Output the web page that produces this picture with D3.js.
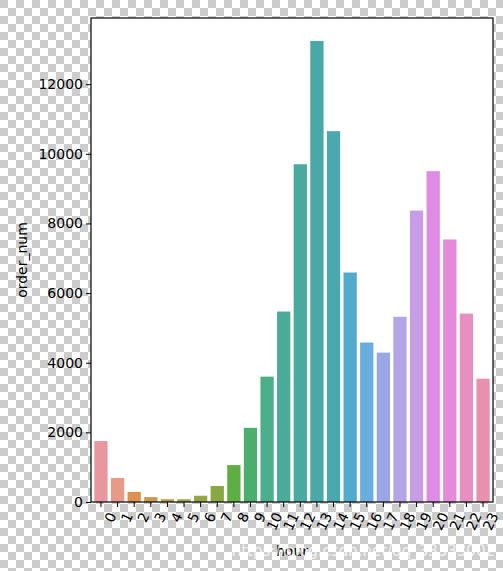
<!DOCTYPE html>
<html><head><meta charset="utf-8">
<script src="https://cdn.jsdelivr.net/npm/d3@7"></script>
<style>body{margin:0}text{font-family:"DejaVu Sans",sans-serif}</style>
</head><body><div class="chart"></div>
<script>
var hours = d3.range(24).map(String);
var orders = [1750, 690, 290, 140, 80, 80, 180, 460, 1060, 2130, 3600, 5470,
  9700, 13240, 10650, 6590, 4580, 4290, 5320, 8370, 9500, 7540, 5410, 3540];
var colors = ["#e8979f","#e89a88","#e0914f","#c89a4a","#b6a048","#a6a24a","#96a646","#88a844",
  "#5fae44","#4aaf6c","#4aaf8a","#4aab98","#49aaa0","#4aa9a6","#4aa8ae","#52aacd",
  "#6aaee0","#9aa7e4","#b5a5e6","#c99de6","#de8be6","#e48ad8","#e78fc0","#e891ae"];
var yTicks = [0, 2000, 4000, 6000, 8000, 10000, 12000];

var svgWidth = 503, svgHeight = 571;
var margin = {top: 18, right: 10, bottom: 69, left: 91};
var width = svgWidth - margin.left - margin.right;
var height = svgHeight - margin.top - margin.bottom;

var svg = d3.select(".chart").append("svg")
  .attr("width", svgWidth).attr("height", svgHeight);

// checkerboard background
var pat = svg.append("defs").append("pattern").attr("id", "chk")
  .attr("width", 16).attr("height", 16).attr("patternUnits", "userSpaceOnUse");
pat.append("rect").attr("width", 16).attr("height", 16).attr("fill", "#fff");
pat.append("rect").attr("width", 8).attr("height", 8).attr("fill", "#ccc");
pat.append("rect").attr("x", 8).attr("y", 8).attr("width", 8).attr("height", 8).attr("fill", "#ccc");
svg.append("rect").attr("width", svgWidth).attr("height", svgHeight).attr("fill", "url(#chk)");

var g = svg.append("g").attr("transform", `translate(${margin.left}, ${margin.top})`);
g.append("rect").attr("width", width).attr("height", height).attr("fill", "#fff");

var x = d3.scaleBand().domain(hours).range([0, width]).padding(0.2);
var y = d3.scaleLinear().domain([0, 13900]).range([height, 0]);

g.selectAll(".bar").data(orders).enter().append("rect")
  .attr("x", (d, i) => x(hours[i]))
  .attr("y", d => y(d))
  .attr("width", x.bandwidth())
  .attr("height", d => height - y(d))
  .attr("fill", (d, i) => colors[i]);

var xa = g.append("g").attr("transform", `translate(0, ${height})`)
  .call(d3.axisBottom(x).tickSize(5).tickSizeOuter(0));
xa.selectAll("text").style("font-size", "14px").attr("fill", "#000")
  .attr("text-anchor", "end").attr("dy", "0.35em")
  .attr("transform", "translate(4,8) rotate(-65)");

var ya = g.append("g").call(d3.axisLeft(y).tickValues(yTicks).tickFormat(d3.format("d"))
  .tickSize(5).tickSizeOuter(0));
ya.selectAll("text").style("font-size", "14px").attr("fill", "#000");

g.selectAll(".domain").remove();
g.append("rect").attr("width", width).attr("height", height)
  .attr("fill", "none").attr("stroke", "#000").attr("stroke-width", 1.2);

svg.append("text").attr("transform", "rotate(-90)")
  .attr("x", -(margin.top + height / 2)).attr("y", 27)
  .attr("text-anchor", "middle").style("font-size", "14px").text("order_num");
svg.append("text").attr("x", margin.left + width / 2).attr("y", 556)
  .attr("text-anchor", "middle").style("font-size", "14px").text("hour");
svg.append("text").attr("x", 495).attr("y", 556).attr("text-anchor", "end")
  .attr("fill", "#fff").attr("opacity", 0.75).style("font-size", "15px")
  .text("https://blog.csdn.net/qq_33333002");
</script></body></html>
